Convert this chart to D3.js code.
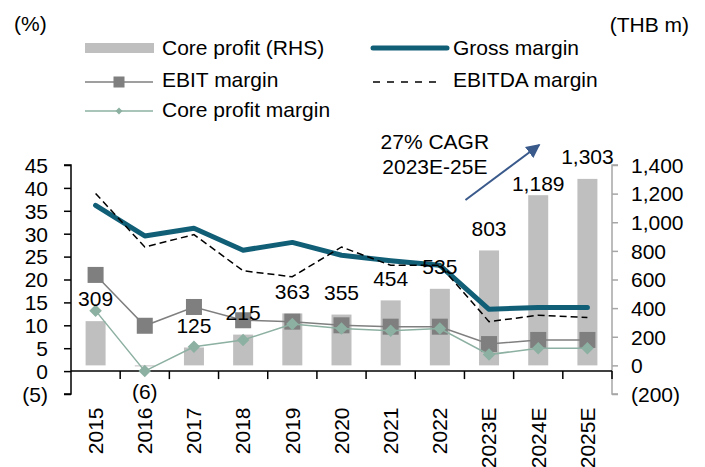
<!DOCTYPE html>
<html>
<head>
<meta charset="utf-8">
<script src="https://cdn.jsdelivr.net/npm/d3@7"></script>
<style>
  body { margin: 0; background: #fff; }
  text { font-family: "Liberation Sans", Arial, sans-serif; font-size: 21px; fill: #000; }
</style>
</head>
<body>
<div id="chart"></div>
<script>
// data
var years = ["2015", "2016", "2017", "2018", "2019", "2020", "2021", "2022", "2023E", "2024E", "2025E"];
var coreProfit = [309, -6, 125, 215, 363, 355, 454, 535, 803, 1189, 1303];           // THB m (RHS)
var grossMargin = [36.2, 29.5, 31.2, 26.4, 28.1, 25.3, 24.1, 23.1, 13.5, 13.9, 13.9];  // %
var ebitMargin = [21.0, 9.9, 14.0, 11.1, 10.8, 10.0, 9.7, 9.7, 5.9, 6.8, 6.8];
var ebitdaMargin = [38.8, 27.1, 29.8, 21.9, 20.6, 27.1, 23.1, 23.1, 10.8, 12.2, 11.7];
var coreMargin = [13.2, 0.0, 5.3, 6.8, 10.3, 9.3, 8.8, 9.3, 3.6, 5.0, 5.0];
var leftTicks = [-5, 0, 5, 10, 15, 20, 25, 30, 35, 40, 45];
var rightTicks = [-200, 0, 200, 400, 600, 800, 1000, 1200, 1400];

var attrs = {
    svgWidth: 705,
    svgHeight: 467,
    left: 71,
    right: 612,
    top: 165,
    bottom: 394
};

// manual nudge Excel-style for one label
var labelNudge = { "2024E": 10 };

var colors = {
    bar: '#bfbfbf',
    gross: '#115e77',
    ebit: '#7f7f7f',
    ebitda: '#000',
    core: '#8cb0a1',
    arrow: '#3a5a8c'
};

function paren(fmt) {
    return function (d) { return d < 0 ? '(' + fmt(-d) + ')' : fmt(d); };
}

var svg = d3.select('#chart').append('svg')
    .attr('width', attrs.svgWidth)
    .attr('height', attrs.svgHeight);

var x = d3.scaleBand().domain(years).range([attrs.left, attrs.right]);
var yL = d3.scaleLinear().domain([-5, 45]).range([attrs.bottom, attrs.top]);
var yR = d3.scaleLinear().domain([-200, 1400]).range([attrs.bottom, attrs.top]);
var cx = function (d, i) { return x(years[i]) + x.bandwidth() / 2; };

// unit labels
svg.append('text').attr('x', 14).attr('y', 24).attr('dy', '0.35em').text('(%)');
svg.append('text').attr('x', 689).attr('y', 25).attr('dy', '0.35em')
    .attr('text-anchor', 'end').text('(THB m)');

// bars
var barW = 20;
svg.append('g').selectAll('rect').data(coreProfit).enter().append('rect')
    .attr('x', function (d, i) { return cx(d, i) - barW / 2; })
    .attr('y', function (d) { return Math.min(yR(d), yR(0)); })
    .attr('width', barW)
    .attr('height', function (d) { return Math.max(1, Math.abs(yR(d) - yR(0))); })
    .attr('fill', colors.bar);

// axes
var leftAxis = d3.axisLeft(yL).tickValues(leftTicks).tickSize(7).tickPadding(16)
    .tickFormat(paren(d3.format('d')));
var gL = svg.append('g').attr('transform', 'translate(' + attrs.left + ',0)').call(leftAxis);
gL.select('.domain').attr('d', 'M-7,' + attrs.top + 'H0V' + attrs.bottom + 'H-7')
    .attr('stroke', '#000').attr('stroke-width', 1.5);
gL.selectAll('.tick line').attr('stroke', '#000').attr('stroke-width', 1.5);
gL.selectAll('text').attr('font-size', 21).attr('font-family', null).attr('dy', '0.35em');

var rightAxis = d3.axisRight(yR).tickValues(rightTicks).tickSize(6).tickPadding(13)
    .tickFormat(paren(d3.format(',')));
var gR = svg.append('g').attr('transform', 'translate(' + attrs.right + ',0)').call(rightAxis);
gR.select('.domain').attr('d', 'M6,' + attrs.top + 'H0V' + attrs.bottom + 'H6')
    .attr('stroke', '#a6a6a6').attr('stroke-width', 1.5);
gR.selectAll('.tick line').attr('stroke', '#a6a6a6').attr('stroke-width', 1.5);
gR.selectAll('text').attr('font-size', 21).attr('font-family', null).attr('dy', '0.35em');

// category axis at zero of the left scale
var xAxisY = yL(0);
var gX = svg.append('g');
gX.append('line')
    .attr('x1', attrs.left).attr('x2', attrs.right)
    .attr('y1', xAxisY).attr('y2', xAxisY)
    .attr('stroke', '#000').attr('stroke-width', 1.5);
gX.selectAll('.xtick').data(years).enter().append('line')
    .attr('class', 'xtick')
    .attr('x1', function (d) { return x(d) + x.step(); })
    .attr('x2', function (d) { return x(d) + x.step(); })
    .attr('y1', xAxisY).attr('y2', xAxisY + 8)
    .attr('stroke', '#000').attr('stroke-width', 1.5);
gX.selectAll('.xlabel').data(years).enter().append('text')
    .attr('class', 'xlabel')
    .attr('text-anchor', 'end')
    .attr('dy', '0.35em')
    .attr('transform', function (d) {
        return 'translate(' + (x(d) + x.bandwidth() / 2) + ',407.5) rotate(-90)';
    })
    .text(function (d) { return d; });

// lines
function lineFor(values) {
    return d3.line()
        .x(function (d, i) { return cx(d, i); })
        .y(function (d) { return yL(d); })(values);
}

svg.append('path').attr('d', lineFor(grossMargin))
    .attr('fill', 'none').attr('stroke', colors.gross).attr('stroke-width', 5)
    .attr('stroke-linejoin', 'round').attr('stroke-linecap', 'round');

svg.append('path').attr('d', lineFor(ebitMargin))
    .attr('fill', 'none').attr('stroke', colors.ebit).attr('stroke-width', 1.5);
svg.append('g').selectAll('rect').data(ebitMargin).enter().append('rect')
    .attr('x', function (d, i) { return cx(d, i) - 8; })
    .attr('y', function (d) { return yL(d) - 8; })
    .attr('width', 16).attr('height', 16)
    .attr('fill', colors.ebit);

svg.append('path').attr('d', lineFor(ebitdaMargin))
    .attr('fill', 'none').attr('stroke', colors.ebitda).attr('stroke-width', 1.5)
    .attr('stroke-dasharray', '7,4');

svg.append('path').attr('d', lineFor(coreMargin))
    .attr('fill', 'none').attr('stroke', colors.core).attr('stroke-width', 1.5);
var diamond = d3.symbol().type(d3.symbolDiamond2).size(100);
svg.append('g').selectAll('path').data(coreMargin).enter().append('path')
    .attr('d', diamond)
    .attr('transform', function (d, i) { return 'translate(' + cx(d, i) + ',' + yL(d) + ')'; })
    .attr('fill', colors.core);

// bar labels
svg.append('g').selectAll('text').data(coreProfit).enter().append('text')
    .attr('text-anchor', 'middle')
    .attr('dy', '0.35em')
    .attr('x', function (d, i) { return cx(d, i); })
    .attr('y', function (d, i) {
        var nudge = labelNudge[years[i]] || 0;
        return d >= 0 ? yR(d) - 22 + nudge : yR(0) + 26;
    })
    .text(function (d) { return paren(d3.format(','))(d); });

// CAGR annotation
svg.append('defs').append('marker')
    .attr('id', 'arrowhead')
    .attr('viewBox', '0 0 10 10')
    .attr('refX', 9).attr('refY', 5)
    .attr('markerWidth', 7).attr('markerHeight', 7)
    .attr('markerUnits', 'strokeWidth')
    .attr('orient', 'auto')
    .append('path').attr('d', 'M0,0L10,5L0,10Z').attr('fill', colors.arrow);

svg.append('line')
    .attr('x1', x('2023E') + 1).attr('y1', yR(1155))
    .attr('x2', x('2024E') + x.bandwidth() / 2 + 1).attr('y2', yR(1540))
    .attr('stroke', colors.arrow).attr('stroke-width', 2)
    .attr('marker-end', 'url(#arrowhead)');

var noteX = x('2022') + x.bandwidth() / 2 - 5;
svg.append('text').attr('x', noteX).attr('y', 142).attr('dy', '0.35em')
    .attr('text-anchor', 'middle').text('27% CAGR');
svg.append('text').attr('x', noteX).attr('y', 167).attr('dy', '0.35em')
    .attr('text-anchor', 'middle').text('2023E-25E');

// legend
var legend = svg.append('g');
var col1 = 85, col2 = 373, textOff = 77;
var rows = [48, 82, 111];

legend.append('rect').attr('x', col1).attr('y', rows[0] - 5).attr('width', 69).attr('height', 10)
    .attr('fill', colors.bar);
legend.append('text').attr('x', col1 + textOff).attr('y', rows[0]).attr('dy', '0.35em')
    .text('Core profit (RHS)');

legend.append('line').attr('x1', col2).attr('x2', col2 + 74).attr('y1', rows[0]).attr('y2', rows[0])
    .attr('stroke', colors.gross).attr('stroke-width', 5).attr('stroke-linecap', 'round');
legend.append('text').attr('x', 453).attr('y', rows[0]).attr('dy', '0.35em')
    .text('Gross margin');

legend.append('line').attr('x1', col1).attr('x2', col1 + 68).attr('y1', rows[1]).attr('y2', rows[1])
    .attr('stroke', colors.ebit).attr('stroke-width', 1.5);
legend.append('rect').attr('x', col1 + 34 - 5.5).attr('y', rows[1] - 5.5).attr('width', 11).attr('height', 11)
    .attr('fill', colors.ebit);
legend.append('text').attr('x', col1 + textOff).attr('y', rows[1] - 2).attr('dy', '0.35em')
    .text('EBIT margin');

legend.append('line').attr('x1', col2).attr('x2', col2 + 68).attr('y1', rows[1]).attr('y2', rows[1])
    .attr('stroke', colors.ebitda).attr('stroke-width', 1.5).attr('stroke-dasharray', '7,7');
legend.append('text').attr('x', 453).attr('y', rows[1] - 2).attr('dy', '0.35em')
    .text('EBITDA margin');

legend.append('line').attr('x1', col1).attr('x2', col1 + 68).attr('y1', rows[2]).attr('y2', rows[2])
    .attr('stroke', colors.core).attr('stroke-width', 1.5);
legend.append('path').attr('d', d3.symbol().type(d3.symbolDiamond2).size(30))
    .attr('transform', 'translate(' + (col1 + 34) + ',' + rows[2] + ')')
    .attr('fill', colors.core);
legend.append('text').attr('x', col1 + textOff).attr('y', rows[2] - 1).attr('dy', '0.35em')
    .text('Core profit margin');
</script>
</body>
</html>
